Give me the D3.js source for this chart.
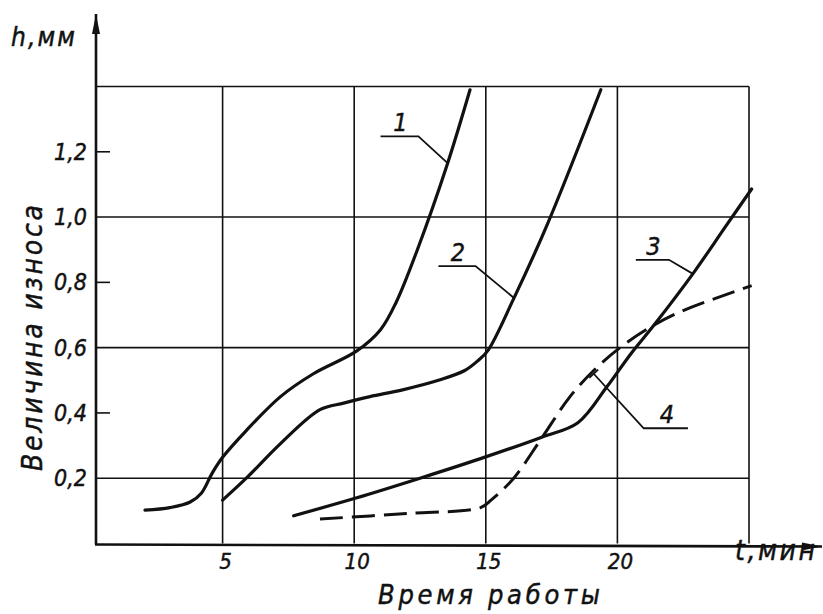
<!DOCTYPE html>
<html>
<head>
<meta charset="utf-8">
<script src="https://cdn.jsdelivr.net/npm/d3@7"></script>
<style>
  body { margin: 0; background: #fff; }
  text { font-family: "Liberation Sans Narrow", "DejaVu Sans Condensed", "Liberation Sans", sans-serif; font-style: italic; fill: #111; stroke: #111; stroke-width: 0.45; }
</style>
</head>
<body>
<script>
// Wear curves (t, min ; h, mm)
var curve1 = [[2.05,0.102],[3.0,0.11],[3.77,0.127],[4.2,0.155],[4.6,0.215],[5.0,0.264],[5.9,0.346],[7.2,0.45],[8.45,0.52],[10.1,0.59],[11.0,0.655],[11.6,0.74],[12.4,0.9],[13.55,1.165],[14.4,1.39]];
var curve2 = [[5.0,0.133],[5.9,0.2],[7.2,0.306],[8.7,0.41],[9.6,0.43],[10.6,0.45],[11.8,0.47],[13.2,0.50],[14.2,0.53],[14.7,0.56],[15.07,0.59],[16.06,0.75],[17.35,0.98],[19.37,1.39]];
var curve3 = [[7.7,0.085],[10.1,0.14],[12.5,0.2],[14.8,0.26],[17.1,0.325],[18.5,0.37],[19.6,0.48],[20.5,0.58],[21.4,0.67],[22.9,0.83],[24.1,0.97],[25.1,1.086]];
var curve4 = [[8.7,0.075],[12,0.092],[14.8,0.11],[15.2,0.133],[16.06,0.2],[17.1,0.32],[18.2,0.45],[19.1,0.53],[20.1,0.6],[21.2,0.66],[22.4,0.71],[25.1,0.79]];

var xTicks = [5, 10, 15, 20];
var yGrid = [0.2, 0.6, 1.0];
var yTicks = [0.4, 0.8, 1.2];
var yLabels = [0.2, 0.4, 0.6, 0.8, 1.0, 1.2];

// leader labels: text, anchor on curve, elbow, end of underline (data units)
var labels = [
  {name: "1", anchor: [13.55,1.165], elbow: [12.44,1.247], end: [11.0,1.247], tick: false},
  {name: "2", anchor: [16.06,0.753], elbow: [14.61,0.85], end: [13.2,0.85], tick: false},
  {name: "3", anchor: [22.87,0.826], elbow: [21.96,0.869], end: [20.7,0.869], tick: false},
  {name: "4", anchor: [19.1,0.52], elbow: [21.0,0.353], end: [22.68,0.353], tick: true}
];

var width = 823, height = 614;

var svg = d3.select("body").append("svg")
    .attr("width", width)
    .attr("height", height);

svg.append("rect").attr("width", width).attr("height", height).attr("fill", "#fff");

var x = d3.scaleLinear().domain([0, 25]).range([91, 749]);
var y = d3.scaleLinear().domain([0, 1.4]).range([543.5, 86.5]);
var axisX = 96;

var ink = "#111";

// grid
var grid = svg.append("g").attr("stroke", ink).attr("stroke-width", 1.6).attr("fill", "none");
xTicks.concat([25]).forEach(function(t) {
  grid.append("line").attr("x1", x(t)).attr("x2", x(t)).attr("y1", y(1.4)).attr("y2", y(0));
});
yGrid.concat([1.4]).forEach(function(v) {
  grid.append("line").attr("x1", axisX).attr("x2", x(25)).attr("y1", y(v)).attr("y2", y(v));
});
yTicks.forEach(function(v) {
  grid.append("line").attr("x1", axisX).attr("x2", axisX + 14).attr("y1", y(v)).attr("y2", y(v));
});

// axes with arrows
svg.append("defs").append("marker")
    .attr("id", "arrow")
    .attr("viewBox", "0 0 20 8")
    .attr("refX", 20).attr("refY", 4)
    .attr("markerWidth", 20).attr("markerHeight", 8)
    .attr("markerUnits", "userSpaceOnUse")
    .attr("orient", "auto")
  .append("path").attr("d", "M0,0 L20,4 L0,8 Z").attr("fill", ink);

svg.append("line").attr("x1", axisX).attr("x2", axisX).attr("y1", y(0) + 1).attr("y2", 14)
    .attr("stroke", ink).attr("stroke-width", 2.6).attr("marker-end", "url(#arrow)");
svg.append("line").attr("x1", axisX - 1).attr("x2", 822).attr("y1", y(0) + 1).attr("y2", y(0) + 3)
    .attr("stroke", ink).attr("stroke-width", 2.6).attr("marker-end", "url(#arrow)");

// tick labels
svg.selectAll("text.ylab").data(yLabels).enter().append("text")
    .attr("class", "ylab")
    .attr("x", 87).attr("y", function(d) { return y(d) + 8; })
    .attr("text-anchor", "end")
    .attr("font-size", 23)
    .text(function(d) { return d3.format(".1f")(d).replace(".", ","); });

svg.selectAll("text.xlab").data(xTicks).enter().append("text")
    .attr("class", "xlab")
    .attr("x", function(d) { return x(d) + 3; }).attr("y", 569)
    .attr("text-anchor", "middle")
    .attr("font-size", 22)
    .text(function(d) { return d; });

// axis titles
svg.append("text").attr("x", 11).attr("y", 46).attr("font-size", 26)
    .attr("textLength", 64).attr("lengthAdjust", "spacing").text("h,мм");
svg.append("text").attr("x", 735).attr("y", 560).attr("font-size", 28)
    .attr("textLength", 80).attr("lengthAdjust", "spacing").text("t,мин");
svg.append("text").attr("x", 378).attr("y", 604).attr("font-size", 27)
    .attr("textLength", 222).attr("lengthAdjust", "spacing").text("Время работы");
svg.append("text").attr("transform", "translate(42,471) rotate(-90)").attr("font-size", 28)
    .attr("textLength", 266).attr("lengthAdjust", "spacing").text("Величина износа");

// curves
var line = d3.line()
    .x(function(d) { return x(d[0]); })
    .y(function(d) { return y(d[1]); })
    .curve(d3.curveCatmullRom.alpha(0.5));

[curve1, curve2, curve3].forEach(function(c) {
  svg.append("path").datum(c).attr("d", line)
      .attr("fill", "none").attr("stroke", ink).attr("stroke-width", 3.2)
      .attr("stroke-linecap", "round").attr("stroke-linejoin", "round");
});
svg.append("path").datum(curve4).attr("d", line)
    .attr("fill", "none").attr("stroke", ink).attr("stroke-width", 3)
    .attr("stroke-dasharray", "23,9");

// leader labels
labels.forEach(function(l) {
  var pts = [l.anchor, l.elbow, l.end];
  svg.append("path")
      .attr("d", d3.line().x(function(d) { return x(d[0]); }).y(function(d) { return y(d[1]); })(pts))
      .attr("fill", "none").attr("stroke", ink).attr("stroke-width", 1.8);
  if (l.tick) {
    var ax = x(l.anchor[0]), ay = y(l.anchor[1]);
    var dx = x(l.elbow[0]) - ax, dy = y(l.elbow[1]) - ay;
    var len = Math.sqrt(dx * dx + dy * dy);
    var px = -dy / len * 6, py = dx / len * 6;
    svg.append("line").attr("x1", ax - px).attr("y1", ay - py).attr("x2", ax + px).attr("y2", ay + py)
        .attr("stroke", ink).attr("stroke-width", 1.8);
  }
  svg.append("text")
      .attr("x", (x(l.elbow[0]) + x(l.end[0])) / 2 + 1)
      .attr("y", y(l.elbow[1]) - 5)
      .attr("text-anchor", "middle")
      .attr("font-size", 25)
      .text(l.name);
});
</script>
</body>
</html>
